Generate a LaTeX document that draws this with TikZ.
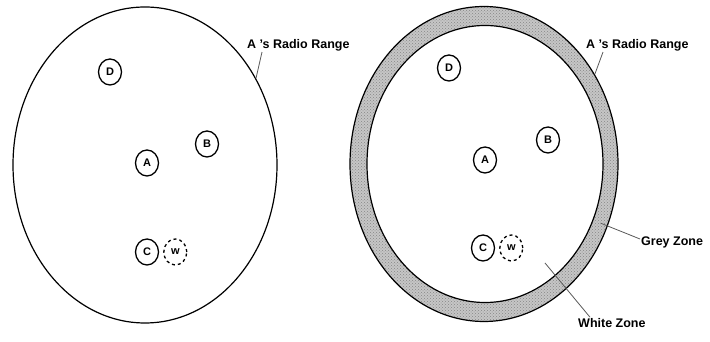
\documentclass[tikz,border=0pt]{standalone}
\usepackage{fontspec}
\setmainfont{Liberation Sans}
\usetikzlibrary{positioning,shapes.geometric,patterns,calc}

\begin{document}
\begin{tikzpicture}[
  x=1pt, y=1pt,
  font=\bfseries\fontsize{12.5}{14}\selectfont,
  radio/.style={draw, ellipse, line width=1.2pt, inner sep=0pt},
  station/.style={draw, ellipse, line width=1.3pt, minimum width=23pt, minimum height=26pt, inner sep=0pt, font=\bfseries\fontsize{11}{12}\selectfont},
  hidden/.style={station, dashed},
  lbl/.style={inner sep=1pt, anchor=west},
  lead/.style={line width=0.8pt, black!65}
]
\useasboundingbox (0,0) rectangle (710,342);

% left: plain radio range
\node[radio, minimum width=264pt, minimum height=316pt] (rangeL) at (145,177) {};
\node[station] (dL) at (110,270) {D};
\node[station] (bL) at (207,198) {B};
\node[station] (aL) at (147,179) {A};
\node[station] (cL) at (147,90) {C};
\node[hidden, right=4pt of cL] (wL) {w};
\node[lbl] (lblL) at (246,297) {A 's Radio Range};
\draw[lead] ([xshift=16pt]lblL.south west) -- (rangeL.38);

% right: grey zone and white zone
\node[radio, minimum width=268pt, minimum height=315pt,
      preaction={fill=gray!45}, pattern=crosshatch dots, pattern color=gray!95] (rangeR) at (484,178) {};
\node[radio, fill=white, minimum width=236pt, minimum height=277pt] (whiteR) at (485,178) {};
\node[station] (dR) at (449,274) {D};
\node[station] (bR) at (548,202) {B};
\node[station] (aR) at (485,182) {A};
\node[station] (cR) at (483,94) {C};
\node[hidden, right=4pt of cR] (wR) {w};
\node[lbl] (lblR) at (585,297) {A 's Radio Range};
\draw[lead] ([xshift=18pt]lblR.south west) -- (rangeR.39);
\node[lbl] (grey) at (640,100) {Grey Zone};
\coordinate (gz) at ($(rangeR.-27)!0.5!(whiteR.-27)$);
\draw[lead] ([yshift=3pt]grey.west) -- (gz);
\node[lbl] (white) at (577,19) {White Zone};
\coordinate (wz) at (545,79);
\draw[lead] ([xshift=13pt]white.north west) -- (wz);
\end{tikzpicture}
\end{document}
